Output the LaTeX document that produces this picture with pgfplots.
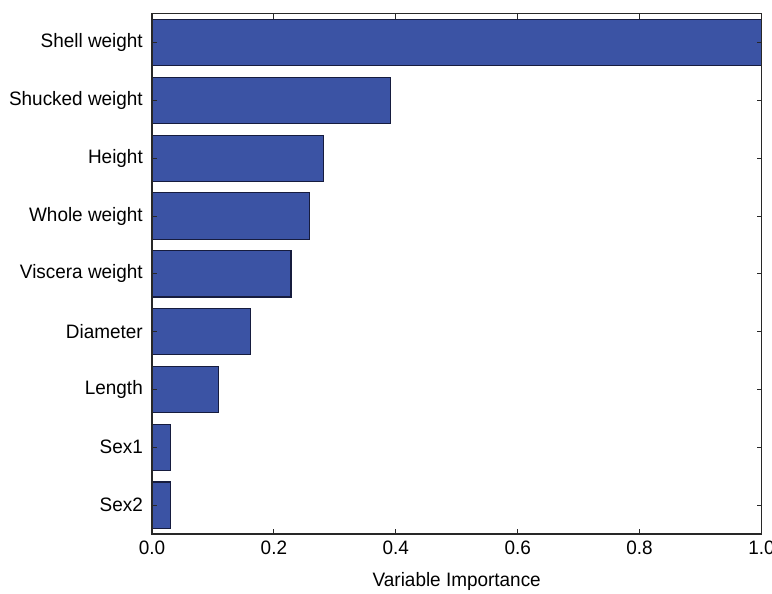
\documentclass[border=0pt]{standalone}
\usepackage{pgfplots}
\pgfplotsset{compat=1.18}
\usepackage{fontspec}
\setmainfont{Liberation Sans}[FakeStretch=0.975]
\definecolor{barfill}{RGB}{59,83,164}
\definecolor{baredge}{RGB}{22,28,62}
\definecolor{axcol}{RGB}{40,40,40}
\begin{document}
\begin{tikzpicture}
\useasboundingbox (-152bp,-60bp) rectangle (620bp,534bp);
\begin{axis}[
  at={(0,0)}, anchor=south west,
  scale only axis,
  width=609.5bp, height=520.3bp,
  xmin=0, xmax=1, ymin=-0.5, ymax=8.5,
  xbar, bar width=0.8, bar shift=0pt,
  axis on top,
  axis line style={axcol, line width=1.2bp},
  tick style={axcol, line width=0.8bp},
  major tick length=5bp,
  tick align=inside,
  xtick={0,0.2,0.4,0.6,0.8,1.0},
  ytick={0,1,2,3,4,5,6,7,8},
  yticklabels={Sex2,Sex1,Length,Diameter,Viscera weight,Whole weight,Height,Shucked weight,Shell weight},
  /pgf/number format/fixed,
  /pgf/number format/fixed zerofill,
  /pgf/number format/precision=1,
  /pgf/number format/assume math mode=true,
  xticklabel style={inner sep=0pt, yshift=-7bp},
  yticklabel style={inner sep=0pt, xshift=-9bp},
  ticklabel style={font=\fontsize{19.5}{21}\selectfont},
  xlabel={Variable Importance},
  xlabel style={at={(axis description cs:0.5,0)}, anchor=north, inner sep=0pt, yshift=-38bp, font=\fontsize{19.5}{21}\selectfont},
]
\addplot[fill=barfill, draw=baredge, line width=1.1bp] coordinates {
  (0.030,0) (0.031,1) (0.109,2) (0.161,3) (0.228,4) (0.259,5) (0.282,6) (0.392,7) (1.0,8)
};
\end{axis}
\end{tikzpicture}
\end{document}
